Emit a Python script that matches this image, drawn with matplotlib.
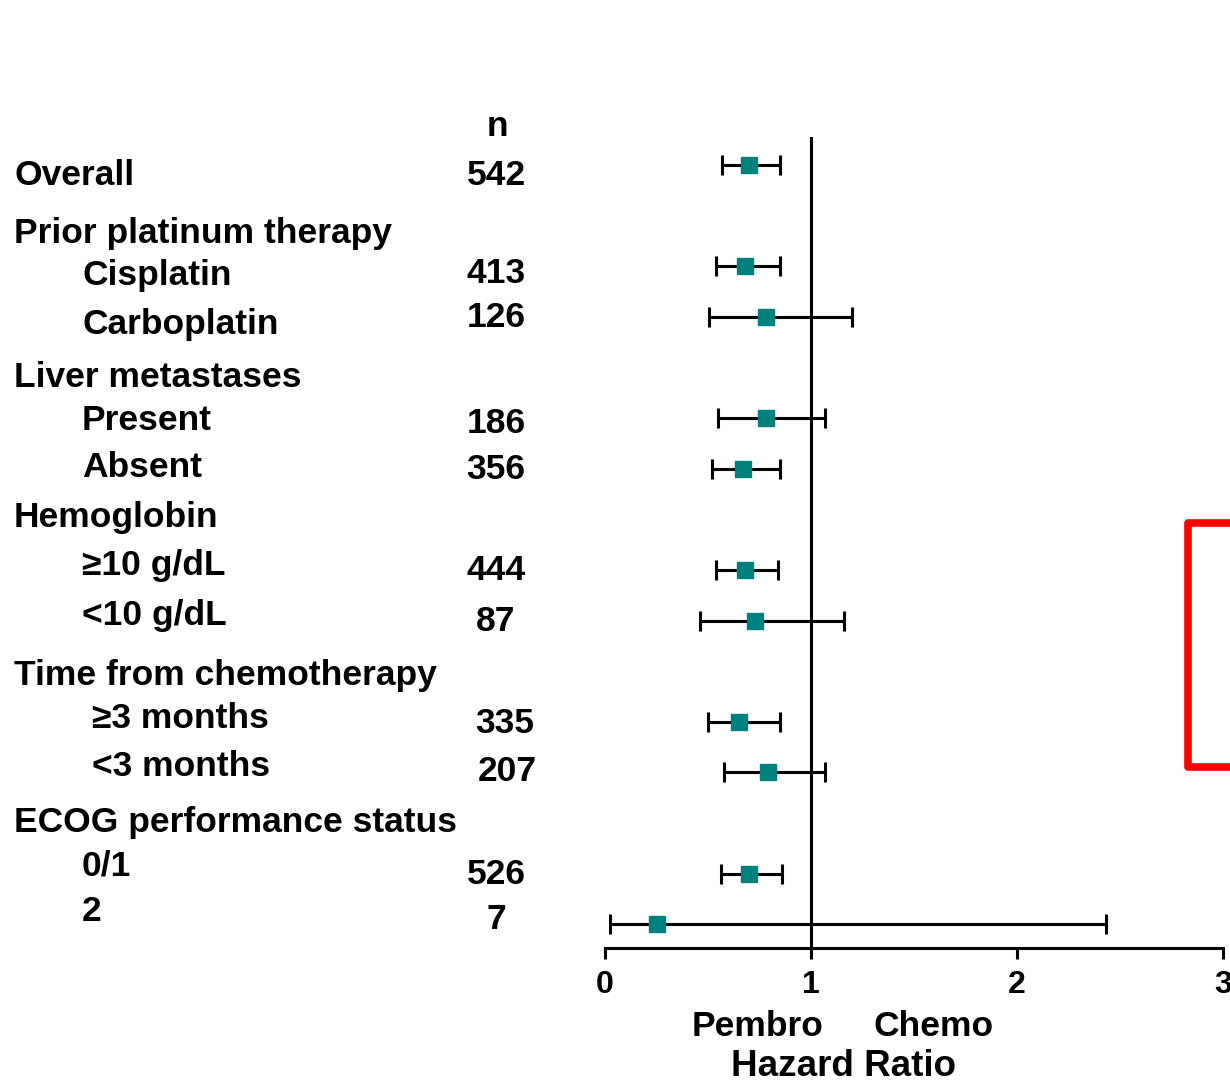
import matplotlib
matplotlib.use("Agg")
import matplotlib.pyplot as plt
from matplotlib.transforms import blended_transform_factory, offset_copy
from matplotlib.lines import Line2D

plt.rcParams["font.family"] = ["Liberation Sans", "DejaVu Sans"]
plt.rcParams["font.weight"] = "bold"

# rows of the table (headers have no estimate)
labels = ["Overall", "Prior platinum therapy", "Cisplatin", "Carboplatin",
          "Liver metastases", "Present", "Absent", "Hemoglobin",
          "\u226510 g/dL", "<10 g/dL", "Time from chemotherapy",
          "\u22653 months", "<3 months", "ECOG performance status", "0/1", "2"]
indent = [0, 0, 1, 1, 0, 1, 1, 0, 1, 1, 0, 2, 2, 0, 1, 1]
n_vals = ["542", "", "413", "126", "", "186", "356", "", "444", "87", "",
          "335", "207", "", "526", "7"]
hr = [0.70, None, 0.68, 0.78, None, 0.78, 0.67, None, 0.68, 0.73, None,
      0.65, 0.79, None, 0.70, 0.25]
lo = [0.57, None, 0.54, 0.505, None, 0.55, 0.52, None, 0.54, 0.46, None,
      0.50, 0.58, None, 0.565, 0.025]
hi = [0.85, None, 0.85, 1.20, None, 1.07, 0.85, None, 0.84, 1.16, None,
      0.85, 1.07, None, 0.86, 2.43]

# vertical nudges in pixels (positive = down) so text sits as in the slide
label_nudge = [11, 18, 9, 8, 10, 2, -1, -2, -4, -5, 4, -3, -6, 0, -8, -13]
n_nudge = [11, 0, 7, 1, 0, 5, 1, 0, 1, 1, 0, 2, -1, 0, 1, -5]
n_shift = [0, 0, 0, 0, 0, 0, 0, 0, 0, 0, 0, 9, 11, 0, 0, 0]

fig = plt.figure(figsize=(12.3, 10.84), dpi=100)
ax = fig.add_axes([605 / 1230, 1 - 948 / 1084, 618 / 1230, 811 / 1084])

rows = list(range(len(labels)))
teal = "#00807f"
for y, h, l, u in zip(rows, hr, lo, hi):
    if h is None:
        continue
    ax.errorbar(h, y, xerr=[[h - l], [u - h]], fmt="s", color=teal,
                ecolor="black", elinewidth=2.2, capsize=7, capthick=2.2,
                markersize=12, zorder=3)

ax.axvline(1, color="black", lw=2.2, zorder=2)
ax.set_xlim(0, 3)
ax.set_ylim(15.47, -0.553)
ax.set_xticks([0, 1, 2, 3])
ax.set_yticks([])
for s in ["top", "right", "left"]:
    ax.spines[s].set_visible(False)
ax.spines["bottom"].set_linewidth(2.2)
ax.tick_params(axis="x", length=8, width=2.2, labelsize=23, pad=8)
for t in ax.get_xticklabels():
    t.set_fontweight("bold")

fs = 25.5
trans = blended_transform_factory(fig.transFigure, ax.transData)
indent_x = [14, 82, 92]
for y, lab, ind, nud in zip(rows, labels, indent, label_nudge):
    tr = offset_copy(trans, fig=fig, y=-nud, units="dots")
    fig.text(indent_x[ind] / 1230, y, lab, transform=tr, fontsize=fs,
             fontweight="bold", va="center", ha="left")
for y, nv, nud, sh in zip(rows, n_vals, n_nudge, n_shift):
    if nv:
        tr = offset_copy(trans, fig=fig, x=sh, y=-nud, units="dots")
        fig.text(496 / 1230, y, nv, transform=tr, fontsize=fs,
                 fontweight="bold", va="center", ha="center")

fig.text(497 / 1230, 1 - 127 / 1084, "n", fontsize=fs, fontweight="bold",
         ha="center", va="center")
fig.text(758 / 1230, 1 - 1027 / 1084, "Pembro", fontsize=fs, fontweight="bold",
         ha="center", va="center")
fig.text(934 / 1230, 1 - 1027 / 1084, "Chemo", fontsize=fs, fontweight="bold",
         ha="center", va="center")
fig.text(843 / 1230, 1 - 1066 / 1084, "Hazard Ratio", fontsize=26.5,
         fontweight="bold", ha="center", va="center")

# red bracket on the right
bx = [1232 / 1230, 1188 / 1230, 1188 / 1230, 1232 / 1230]
by = [1 - 523 / 1084, 1 - 523 / 1084, 1 - 767 / 1084, 1 - 767 / 1084]
fig.add_artist(Line2D(bx, by, transform=fig.transFigure, color="red",
                      lw=5.5, solid_joinstyle="round"))

fig.savefig("out.png", dpi=100)
